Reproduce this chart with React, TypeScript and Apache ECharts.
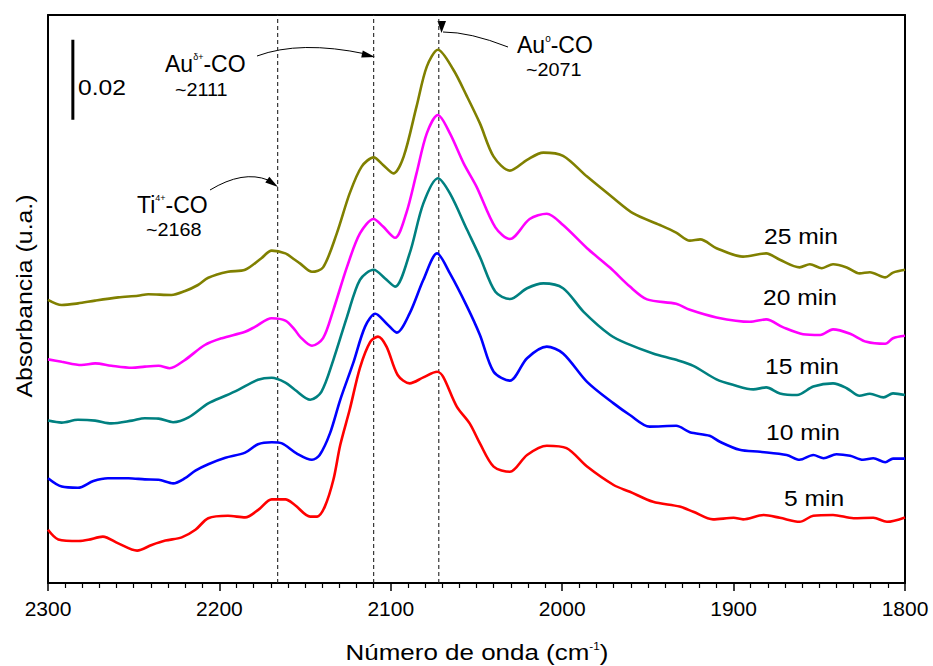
import React, { useEffect, useRef } from "react";
import * as echarts from "echarts";

// ---------- data (wavenumber cm^-1, absorbance a.u. with stacking offsets) ----------
const spectrum5: [number, number][] = [
  [2300, 0.0133], [2294, 0.0109], [2282, 0.0105], [2276.5, 0.0108], [2268, 0.0116], [2259, 0.0099],
  [2248, 0.0081], [2239.5, 0.0095], [2231.5, 0.0106], [2222, 0.0114], [2214, 0.0133], [2206.5, 0.0162],
  [2195, 0.0168], [2185, 0.0164], [2177, 0.0184], [2169.5, 0.0209], [2161.5, 0.0209], [2156, 0.0195],
  [2147, 0.0166], [2143, 0.0166], [2138.5, 0.0191], [2133.5, 0.0258], [2129.5, 0.0345], [2124, 0.0433],
  [2118, 0.0538], [2112, 0.0603], [2107.5, 0.0616], [2102.5, 0.0591], [2096, 0.052], [2089, 0.0499],
  [2081, 0.0514], [2073, 0.0528], [2069.5, 0.0516], [2061.5, 0.0441], [2054, 0.0399], [2048, 0.0349],
  [2040, 0.0291], [2030.5, 0.0278], [2020.5, 0.032], [2009, 0.0343], [1997.5, 0.0337], [1985.5, 0.0291],
  [1970, 0.0245], [1960.5, 0.0228], [1947, 0.0203], [1931.5, 0.0191], [1923.5, 0.0178], [1912, 0.0159],
  [1900, 0.0163], [1894.5, 0.0159], [1882.5, 0.017], [1873, 0.0163], [1861.5, 0.0153], [1853.5, 0.0168],
  [1842, 0.017], [1830, 0.0162], [1818.5, 0.0163], [1810.5, 0.0153], [1800, 0.0164],
];

const spectrum10: [number, number][] = [
  [2300, 0.0262], [2292, 0.0241], [2282.5, 0.0238], [2273.5, 0.0255], [2265, 0.0262], [2253, 0.0262],
  [2243.5, 0.0259], [2235.5, 0.0258], [2227, 0.0249], [2220, 0.0262], [2214, 0.0281], [2206.5, 0.0297],
  [2196.5, 0.0313], [2185, 0.0326], [2177.5, 0.0347], [2169.5, 0.0352], [2163.5, 0.0349], [2155, 0.0324],
  [2146, 0.0308], [2141.5, 0.032], [2135.5, 0.0374], [2129.5, 0.0458], [2122, 0.0549], [2115, 0.0641],
  [2109, 0.0673], [2102.5, 0.0649], [2096.5, 0.0626], [2089, 0.0674], [2081, 0.0758], [2073, 0.0824],
  [2065.5, 0.0774], [2055.5, 0.0691], [2048, 0.062], [2040, 0.0528], [2030.5, 0.0506], [2020.5, 0.0562],
  [2009, 0.0591], [1999.5, 0.0574], [1985.5, 0.0503], [1970, 0.0449], [1960.5, 0.042], [1949, 0.0391],
  [1933.5, 0.0393], [1925.5, 0.0377], [1914, 0.0368], [1908, 0.0353], [1896.5, 0.0333], [1884.5, 0.0328],
  [1869, 0.032], [1861.5, 0.0308], [1853.5, 0.032], [1847.5, 0.0312], [1840, 0.0322], [1832, 0.0318],
  [1824.5, 0.0308], [1818.5, 0.0312], [1811.5, 0.0302], [1807, 0.0311], [1800, 0.0311],
];

const spectrum15: [number, number][] = [
  [2300, 0.0406], [2292, 0.0401], [2282.5, 0.0408], [2272.5, 0.0406], [2263, 0.0399], [2251, 0.0406],
  [2243.5, 0.0412], [2235.5, 0.0411], [2227, 0.0402], [2218, 0.0414], [2206.5, 0.0449], [2196.5, 0.0468],
  [2189, 0.0483], [2177.5, 0.0508], [2169.5, 0.0513], [2161.5, 0.0501], [2156, 0.0483], [2147, 0.0458],
  [2140.5, 0.0478], [2133.5, 0.0558], [2125.5, 0.0666], [2118, 0.0758], [2110, 0.0783], [2103.5, 0.0762],
  [2097.5, 0.0741], [2089, 0.0824], [2081, 0.0949], [2072.5, 0.1012], [2065.5, 0.0974], [2055.5, 0.0883],
  [2048, 0.0815], [2039, 0.0728], [2030.5, 0.071], [2020.5, 0.0737], [2011, 0.0749], [1999.5, 0.0737],
  [1987.5, 0.0678], [1972, 0.062], [1962.5, 0.0599], [1947, 0.0574], [1933.5, 0.0558], [1923.5, 0.0543],
  [1910, 0.0509], [1900, 0.0495], [1888.5, 0.0484], [1881, 0.0489], [1873, 0.0474], [1863, 0.047],
  [1853.5, 0.0491], [1842, 0.0499], [1834, 0.0487], [1826.5, 0.0468], [1820.5, 0.0473], [1812.5, 0.0464],
  [1807, 0.0474], [1800, 0.047],
];

const spectrum20: [number, number][] = [
  [2300, 0.0559], [2292, 0.0553], [2280.5, 0.0545], [2272.5, 0.0549], [2263, 0.0543], [2251, 0.0538],
  [2243.5, 0.0541], [2235.5, 0.0543], [2229, 0.0537], [2220, 0.0558], [2208.5, 0.0595], [2198.5, 0.0612],
  [2185, 0.0628], [2179, 0.0641], [2169.5, 0.0662], [2161.5, 0.0656], [2156, 0.0633], [2153, 0.0616],
  [2146, 0.0593], [2139.5, 0.0612], [2133.5, 0.0683], [2125.5, 0.0791], [2118, 0.0874], [2110, 0.091],
  [2104.5, 0.0891], [2097.5, 0.0863], [2091, 0.0924], [2085, 0.1024], [2079, 0.1124], [2072.5, 0.117],
  [2065.5, 0.1124], [2057.5, 0.1049], [2050, 0.0991], [2039, 0.0889], [2030.5, 0.086], [2019, 0.091],
  [2009, 0.0923], [1999.5, 0.0895], [1985.5, 0.0837], [1972, 0.0788], [1960.5, 0.0741], [1950.5, 0.0709],
  [1933.5, 0.0698], [1925.5, 0.0683], [1910, 0.0664], [1890.5, 0.0653], [1881, 0.0659], [1871, 0.0639],
  [1859.5, 0.0622], [1849.5, 0.062], [1842, 0.0634], [1832, 0.0623], [1822.5, 0.0603], [1811.5, 0.0598],
  [1807, 0.0612], [1800, 0.0618],
];

const spectrum25: [number, number][] = [
  [2300, 0.0708], [2292, 0.0695], [2282.5, 0.0699], [2272.5, 0.0706], [2259, 0.0714], [2247.5, 0.0718],
  [2241.5, 0.0722], [2228, 0.072], [2220, 0.073], [2212.5, 0.0745], [2206.5, 0.0763], [2195, 0.0778],
  [2185, 0.0783], [2175.5, 0.0812], [2169.5, 0.0831], [2161.5, 0.0824], [2156, 0.0808], [2153, 0.0799],
  [2146, 0.0778], [2139.5, 0.0789], [2131.5, 0.0874], [2124, 0.0974], [2117, 0.1041], [2110, 0.1064],
  [2104.5, 0.1045], [2098.5, 0.1024], [2092.5, 0.1066], [2085, 0.1191], [2079, 0.1291], [2072.5, 0.1333],
  [2063.5, 0.1283], [2055.5, 0.1216], [2048, 0.1149], [2040, 0.1066], [2030.5, 0.1031], [2020.5, 0.1058],
  [2011, 0.1076], [1999.5, 0.1068], [1985.5, 0.1016], [1970, 0.0962], [1958.5, 0.0924], [1943, 0.0895],
  [1933.5, 0.0876], [1925.5, 0.0856], [1919.5, 0.0859], [1910, 0.0837], [1894.5, 0.0816], [1881, 0.0824],
  [1873, 0.0808], [1861.5, 0.0789], [1855.5, 0.0797], [1848.5, 0.0787], [1842, 0.0797], [1834, 0.0789],
  [1826.5, 0.0774], [1820.5, 0.0777], [1811.5, 0.0764], [1807, 0.0776], [1800, 0.0783],
];

const seriesNames = ["5 min", "10 min", "15 min", "20 min", "25 min"];
const seriesData = [spectrum5, spectrum10, spectrum15, spectrum20, spectrum25];
const seriesColors = ["#ff0000", "#0000ff", "#008080", "#ff00ff", "#808000"];

const peakPositions = [2166, 2110, 2072]; // Ti4+-CO, Au δ+-CO, Au0-CO
const scaleBarX = 2285.5;
const scaleBarRange: [number, number] = [0.1158, 0.1358]; // 0.02 a.u.

const X_MIN = 1800;
const X_MAX = 2300;
const X_INTERVAL = 100;
const Y_MIN = 0;
const Y_MAX = 0.142;

// ---------- layout (pixel positions of text annotations) ----------
const FONT = "'Liberation Sans', Arial, Helvetica, sans-serif";
const curveLabelPos = [
  { x: 814, y: 498 },
  { x: 803, y: 432 },
  { x: 802, y: 366 },
  { x: 800, y: 297 },
  { x: 801, y: 236 },
];

export default function App() {
  const ref = useRef<HTMLDivElement>(null);

  useEffect(() => {
    document.body.style.margin = "0";
    if (!ref.current) return;
    const chart = echarts.init(ref.current, null, { renderer: "svg" });

    const curveSeries = seriesData.map((d, i) => ({
      name: seriesNames[i],
      type: "line",
      data: d,
      smooth: 0.3,
      showSymbol: false,
      symbol: "none",
      z: 5,
      lineStyle: { color: seriesColors[i], width: 2.6 },
      itemStyle: { color: seriesColors[i] },
    }));

    const dashSeries = peakPositions.map((p) => ({
      type: "line",
      data: [[p, Y_MIN], [p, Y_MAX]],
      showSymbol: false,
      symbol: "none",
      z: 3,
      lineStyle: { color: "#222", width: 1.1, type: [4, 3] },
    }));

    const scaleBar = {
      type: "line",
      data: [[scaleBarX, scaleBarRange[0]], [scaleBarX, scaleBarRange[1]]],
      showSymbol: false,
      symbol: "none",
      lineStyle: { color: "#000", width: 3 },
    };

    const supRich = (big: number, small: number) => ({
      b: { fontSize: big, fontFamily: FONT, fill: "#000" },
      s: { fontSize: small, fontFamily: FONT, fill: "#000", verticalAlign: "top" },
    });

    const arrowStyle = { stroke: "#000", lineWidth: 1, fill: null };

    const graphic: any[] = [
      ...seriesNames.map((n, i) => ({
        type: "text",
        x: curveLabelPos[i].x,
        y: curveLabelPos[i].y,
        scaleX: 1.12,
        style: { text: n, fontSize: 22, fontFamily: FONT, fill: "#000", align: "center", verticalAlign: "middle" },
      })),
      {
        type: "text", x: 78, y: 87, scaleX: 1.12,
        style: { text: "0.02", fontSize: 22, fontFamily: FONT, fill: "#000", align: "left", verticalAlign: "middle" },
      },
      {
        type: "text", x: 165, y: 64,
        style: { text: "{b|Au}{s|δ+}{b|-CO}", rich: supRich(23, 9), align: "left", verticalAlign: "middle" },
      },
      {
        type: "text", x: 175, y: 90, scaleX: 1.1,
        style: { text: "~2111", fontSize: 18, fontFamily: FONT, fill: "#000", align: "left", verticalAlign: "middle" },
      },
      {
        type: "text", x: 517, y: 45,
        style: { text: "{b|Au}{s|o}{b|-CO}", rich: supRich(23, 10), align: "left", verticalAlign: "middle" },
      },
      {
        type: "text", x: 526, y: 70, scaleX: 1.1,
        style: { text: "~2071", fontSize: 18, fontFamily: FONT, fill: "#000", align: "left", verticalAlign: "middle" },
      },
      {
        type: "text", x: 137, y: 205,
        style: { text: "{b|Ti}{s|4+}{b|-CO}", rich: supRich(23, 9), align: "left", verticalAlign: "middle" },
      },
      {
        type: "text", x: 146, y: 230, scaleX: 1.1,
        style: { text: "~2168", fontSize: 18, fontFamily: FONT, fill: "#000", align: "left", verticalAlign: "middle" },
      },
      { type: "bezierCurve", shape: { x1: 257, y1: 56, cpx1: 300, cpy1: 40, x2: 366, y2: 54 }, style: arrowStyle },
      { type: "polygon", shape: { points: [[375, 57], [362.8, 50.6], [361.2, 57.4]] }, style: { fill: "#000" } },
      { type: "bezierCurve", shape: { x1: 210, y1: 190, cpx1: 243, cpy1: 170, x2: 268, y2: 180 }, style: arrowStyle },
      { type: "polygon", shape: { points: [[278, 187], [265.3, 182.5], [269.3, 176.7]] }, style: { fill: "#000" } },
      { type: "bezierCurve", shape: { x1: 508, y1: 47, cpx1: 470, cpy1: 32, x2: 443, y2: 32 }, style: arrowStyle },
      { type: "polygon", shape: { points: [[437.5, 21], [446, 21], [441.5, 33]] }, style: { fill: "#000" } },
      {
        type: "text", x: 477, y: 652, scaleX: 1.18,
        style: { text: "{b|Número de onda (cm}{s|-1}{b|)}", rich: { b: { fontSize: 22, fontFamily: FONT, fill: "#000" }, s: { fontSize: 10, fontFamily: FONT, fill: "#000", verticalAlign: "top" } }, align: "center", verticalAlign: "middle" },
      },
      {
        type: "text", x: 25, y: 296, rotation: Math.PI / 2, scaleX: 1.13,
        style: { text: "Absorbancia (u.a.)", fontSize: 22, fontFamily: FONT, fill: "#000", align: "center", verticalAlign: "middle" },
      },
    ];

    const valueAxisCommon = {
      type: "value",
      min: X_MIN,
      max: X_MAX,
      interval: X_INTERVAL,
      inverse: true,
      splitLine: { show: false },
    };

    chart.setOption({
      animation: false,
      grid: { left: 48, right: 28, top: 15, bottom: 83, containLabel: false },
      xAxis: [
        {
          ...valueAxisCommon,
          position: "bottom",
          axisLine: { show: true, onZero: false, lineStyle: { color: "#000", width: 2 } },
          axisTick: { show: true, inside: false, length: 8, lineStyle: { color: "#000", width: 1.5 } },
          minorTick: { show: true, splitNumber: 10, length: 5, lineStyle: { color: "#000", width: 1.2 } },
          axisLabel: { show: true, color: "#000", fontSize: 21, fontFamily: FONT, margin: 15, formatter: (v: number) => String(v) },
        },
        {
          ...valueAxisCommon,
          position: "top",
          axisLine: { show: true, onZero: false, lineStyle: { color: "#000", width: 2 } },
          axisTick: { show: false },
          axisLabel: { show: false },
        },
      ],
      yAxis: [
        {
          type: "value", min: Y_MIN, max: Y_MAX, position: "left",
          axisLine: { show: true, onZero: false, lineStyle: { color: "#000", width: 2 } },
          axisTick: { show: false }, axisLabel: { show: false }, splitLine: { show: false },
        },
        {
          type: "value", min: Y_MIN, max: Y_MAX, position: "right",
          axisLine: { show: true, onZero: false, lineStyle: { color: "#000", width: 2 } },
          axisTick: { show: false }, axisLabel: { show: false }, splitLine: { show: false },
        },
      ],
      series: [...dashSeries, scaleBar, ...curveSeries],
      graphic,
    });

    return () => chart.dispose();
  }, []);

  return <div ref={ref} style={{ width: 933, height: 666 }} />;
}
